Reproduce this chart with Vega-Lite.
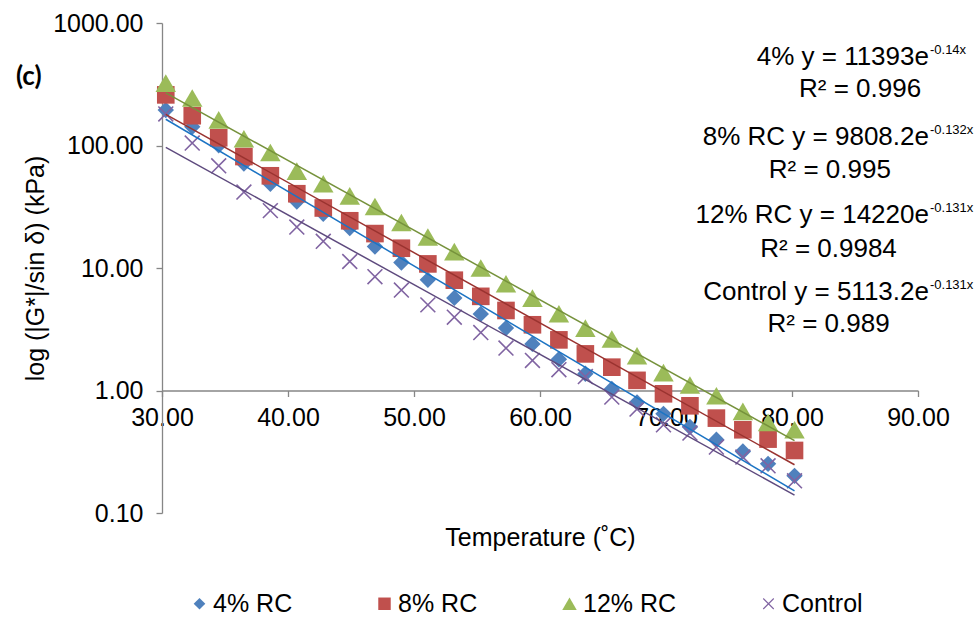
{
  "$schema": "https://vega.github.io/schema/vega-lite/v6.json",
  "width": 756,
  "height": 490,
  "autosize": {"type": "none"},
  "padding": {"left": 162, "top": 23, "right": 57, "bottom": 105},
  "background": "white",
  "title": {
    "text": "(c)",
    "anchor": "start",
    "frame": "group",
    "orient": "top",
    "offset": 0,
    "dx": -146,
    "dy": 100,
    "baseline": "alphabetic",
    "font": "Lato",
    "fontSize": 26,
    "fontWeight": "bold",
    "color": "black"
  },
  "config": {
    "font": "Liberation Sans",
    "view": {"stroke": null},
    "axis": {"grid": false, "labelColor": "black", "titleColor": "black", "titleFontWeight": "normal"},
    "text": {"font": "Liberation Sans", "color": "black"}
  },
  "datasets": {
    "points": [
      {"series": "4% RC", "T": 30.3, "G": 195},
      {"series": "4% RC", "T": 32.4, "G": 142},
      {"series": "4% RC", "T": 34.5, "G": 100.4},
      {"series": "4% RC", "T": 36.5, "G": 71.3},
      {"series": "4% RC", "T": 38.6, "G": 48.7},
      {"series": "4% RC", "T": 40.7, "G": 34.9},
      {"series": "4% RC", "T": 42.8, "G": 27.7},
      {"series": "4% RC", "T": 44.9, "G": 21.2},
      {"series": "4% RC", "T": 46.9, "G": 15.0},
      {"series": "4% RC", "T": 49.0, "G": 11.1},
      {"series": "4% RC", "T": 51.1, "G": 8.0},
      {"series": "4% RC", "T": 53.2, "G": 5.7},
      {"series": "4% RC", "T": 55.3, "G": 4.22},
      {"series": "4% RC", "T": 57.3, "G": 3.23},
      {"series": "4% RC", "T": 59.4, "G": 2.40},
      {"series": "4% RC", "T": 61.5, "G": 1.80},
      {"series": "4% RC", "T": 63.6, "G": 1.37},
      {"series": "4% RC", "T": 65.7, "G": 1.03},
      {"series": "4% RC", "T": 67.7, "G": 0.80},
      {"series": "4% RC", "T": 69.8, "G": 0.645},
      {"series": "4% RC", "T": 71.9, "G": 0.503},
      {"series": "4% RC", "T": 74.0, "G": 0.396},
      {"series": "4% RC", "T": 76.1, "G": 0.318},
      {"series": "4% RC", "T": 78.1, "G": 0.252},
      {"series": "4% RC", "T": 80.2, "G": 0.201},
      {"series": "8% RC", "T": 30.3, "G": 259},
      {"series": "8% RC", "T": 32.4, "G": 175},
      {"series": "8% RC", "T": 34.5, "G": 115.6},
      {"series": "8% RC", "T": 36.5, "G": 81.3},
      {"series": "8% RC", "T": 38.6, "G": 56.6},
      {"series": "8% RC", "T": 40.7, "G": 40.4},
      {"series": "8% RC", "T": 42.8, "G": 30.9},
      {"series": "8% RC", "T": 44.9, "G": 24.3},
      {"series": "8% RC", "T": 46.9, "G": 19.1},
      {"series": "8% RC", "T": 49.0, "G": 14.5},
      {"series": "8% RC", "T": 51.1, "G": 10.8},
      {"series": "8% RC", "T": 53.2, "G": 7.95},
      {"series": "8% RC", "T": 55.3, "G": 5.87},
      {"series": "8% RC", "T": 57.3, "G": 4.50},
      {"series": "8% RC", "T": 59.4, "G": 3.44},
      {"series": "8% RC", "T": 61.5, "G": 2.59},
      {"series": "8% RC", "T": 63.6, "G": 1.99},
      {"series": "8% RC", "T": 65.7, "G": 1.55},
      {"series": "8% RC", "T": 67.7, "G": 1.21},
      {"series": "8% RC", "T": 69.8, "G": 0.94},
      {"series": "8% RC", "T": 71.9, "G": 0.75},
      {"series": "8% RC", "T": 74.0, "G": 0.595},
      {"series": "8% RC", "T": 76.1, "G": 0.478},
      {"series": "8% RC", "T": 78.1, "G": 0.401},
      {"series": "8% RC", "T": 80.2, "G": 0.324},
      {"series": "12% RC", "T": 30.3, "G": 323},
      {"series": "12% RC", "T": 32.4, "G": 244},
      {"series": "12% RC", "T": 34.5, "G": 162},
      {"series": "12% RC", "T": 36.5, "G": 113.5},
      {"series": "12% RC", "T": 38.6, "G": 87.7},
      {"series": "12% RC", "T": 40.7, "G": 61.8},
      {"series": "12% RC", "T": 42.8, "G": 48.7},
      {"series": "12% RC", "T": 44.9, "G": 38.8},
      {"series": "12% RC", "T": 46.9, "G": 31.8},
      {"series": "12% RC", "T": 49.0, "G": 23.5},
      {"series": "12% RC", "T": 51.1, "G": 17.9},
      {"series": "12% RC", "T": 53.2, "G": 13.6},
      {"series": "12% RC", "T": 55.3, "G": 10.0},
      {"series": "12% RC", "T": 57.3, "G": 7.43},
      {"series": "12% RC", "T": 59.4, "G": 5.68},
      {"series": "12% RC", "T": 61.5, "G": 4.23},
      {"series": "12% RC", "T": 63.6, "G": 3.23},
      {"series": "12% RC", "T": 65.7, "G": 2.63},
      {"series": "12% RC", "T": 67.7, "G": 1.92},
      {"series": "12% RC", "T": 69.8, "G": 1.40},
      {"series": "12% RC", "T": 71.9, "G": 1.11},
      {"series": "12% RC", "T": 74.0, "G": 0.906},
      {"series": "12% RC", "T": 76.1, "G": 0.675},
      {"series": "12% RC", "T": 78.1, "G": 0.549},
      {"series": "12% RC", "T": 80.2, "G": 0.478},
      {"series": "Control", "T": 30.3, "G": 181},
      {"series": "Control", "T": 32.4, "G": 104.6},
      {"series": "Control", "T": 34.5, "G": 68.2},
      {"series": "Control", "T": 36.5, "G": 41.7},
      {"series": "Control", "T": 38.6, "G": 29.4},
      {"series": "Control", "T": 40.7, "G": 21.6},
      {"series": "Control", "T": 42.8, "G": 16.5},
      {"series": "Control", "T": 44.9, "G": 11.3},
      {"series": "Control", "T": 46.9, "G": 8.5},
      {"series": "Control", "T": 49.0, "G": 6.6},
      {"series": "Control", "T": 51.1, "G": 5.0},
      {"series": "Control", "T": 53.2, "G": 3.97},
      {"series": "Control", "T": 55.3, "G": 2.97},
      {"series": "Control", "T": 57.3, "G": 2.22},
      {"series": "Control", "T": 59.4, "G": 1.76},
      {"series": "Control", "T": 61.5, "G": 1.48},
      {"series": "Control", "T": 63.6, "G": 1.30},
      {"series": "Control", "T": 65.7, "G": 0.883},
      {"series": "Control", "T": 67.7, "G": 0.705},
      {"series": "Control", "T": 69.8, "G": 0.525},
      {"series": "Control", "T": 71.9, "G": 0.449},
      {"series": "Control", "T": 74.0, "G": 0.345},
      {"series": "Control", "T": 76.1, "G": 0.286},
      {"series": "Control", "T": 78.1, "G": 0.243},
      {"series": "Control", "T": 80.2, "G": 0.183}
    ],
    "fits": [
      {"series": "4% RC", "T": 30.3, "G": 163.8},
      {"series": "4% RC", "T": 80.2, "G": 0.1515},
      {"series": "8% RC", "T": 30.3, "G": 179.7},
      {"series": "8% RC", "T": 80.2, "G": 0.2477},
      {"series": "12% RC", "T": 30.3, "G": 268.6},
      {"series": "12% RC", "T": 80.2, "G": 0.3892},
      {"series": "Control", "T": 30.3, "G": 96.57},
      {"series": "Control", "T": 80.2, "G": 0.1399}
    ],
    "equations": [
      {"T": 90.87, "G": 454, "text": "4% y = 11393e", "sup": "-0.14x"},
      {"T": 90.87, "G": 100.9, "text": "8% RC y = 9808.2e", "sup": "-0.132x"},
      {"T": 90.87, "G": 23.3, "text": "12% RC y = 14220e", "sup": "-0.131x"},
      {"T": 90.87, "G": 5.48, "text": "Control y = 5113.2e", "sup": "-0.131x"}
    ],
    "rsquared": [
      {"T": 85.4, "G": 249, "text": "R² = 0.996"},
      {"T": 83.0, "G": 54.3, "text": "R² = 0.995"},
      {"T": 82.9, "G": 12.3, "text": "R² = 0.9984"},
      {"T": 82.9, "G": 3.0, "text": "R² = 0.989"}
    ]
  },
  "encoding": {
    "x": {
      "field": "T",
      "type": "quantitative",
      "scale": {"domain": [30, 90], "nice": false, "zero": false},
      "axis": {
        "title": "Temperature (˚C)",
        "values": [30, 40, 50, 60, 70, 80, 90],
        "format": ".2f",
        "offset": -122.5,
        "domainColor": "#868686",
        "domainWidth": 1.3,
        "tickColor": "#868686",
        "tickWidth": 1.3,
        "tickSize": 6,
        "labelFontSize": 25,
        "labelPadding": 9,
        "labelFlush": false,
        "labelOverlap": false,
        "titleFontSize": 25,
        "titlePadding": 95
      }
    },
    "y": {
      "field": "G",
      "type": "quantitative",
      "scale": {"type": "log", "domain": [0.1, 1000], "nice": false},
      "axis": {
        "title": "log (|G*|/sin δ) (kPa)",
        "values": [0.1, 1, 10, 100, 1000],
        "format": ".2f",
        "domainColor": "#868686",
        "domainWidth": 1.3,
        "tickColor": "#868686",
        "tickWidth": 1.3,
        "tickSize": 6,
        "labelFontSize": 25,
        "labelPadding": 13,
        "labelFlush": false,
        "labelOverlap": false,
        "titleFontSize": 25,
        "titlePadding": 4
      }
    }
  },
  "layer": [
    {
      "data": {"name": "points"},
      "mark": {"type": "point", "filled": true, "opacity": 1, "strokeWidth": 0, "size": 420},
      "encoding": {
        "color": {
          "field": "series",
          "type": "nominal",
          "scale": {
            "domain": ["4% RC", "8% RC", "12% RC", "Control"],
            "range": ["#4F81BD", "#C0504D", "#9BBB59", "#8064A2"]
          },
          "legend": {
            "title": null,
            "orient": "none",
            "legendX": 25,
            "legendY": 568,
            "direction": "horizontal",
            "labelFontSize": 25,
            "labelColor": "black",
            "labelOffset": 1,
            "symbolSize": 210,
            "symbolStrokeWidth": 0,
            "symbolOpacity": 1,
            "columnPadding": 79
          }
        },
        "shape": {
          "field": "series",
          "type": "nominal",
          "scale": {
            "domain": ["4% RC", "8% RC", "12% RC", "Control"],
            "range": [
              "M0,-0.8L0.8,0L0,0.8L-0.8,0Z",
              "M-0.86,-0.86L0.86,-0.86L0.86,0.86L-0.86,0.86Z",
              "M0,-0.86L1,0.86L-1,0.86Z",
              "M-0.67,-0.78L0.78,0.67L0.67,0.78L-0.78,-0.67ZM0.67,-0.78L0.78,-0.67L-0.67,0.78L-0.78,0.67Z"
            ]
          }
        }
      }
    },
    {
      "data": {"name": "fits"},
      "mark": {"type": "line", "strokeWidth": 1.5},
      "encoding": {
        "stroke": {
          "field": "series",
          "type": "nominal",
          "scale": {
            "domain": ["4% RC", "8% RC", "12% RC", "Control"],
            "range": ["#1C74C4", "#9A3330", "#76923C", "#5E4A7E"]
          },
          "legend": null
        }
      }
    },
    {
      "data": {"name": "equations"},
      "mark": {"type": "text", "align": "right", "baseline": "alphabetic", "fontSize": 26},
      "encoding": {"text": {"field": "text"}}
    },
    {
      "data": {"name": "equations"},
      "mark": {"type": "text", "align": "left", "baseline": "alphabetic", "fontSize": 13, "dx": 1, "dy": -11},
      "encoding": {"text": {"field": "sup"}}
    },
    {
      "data": {"name": "rsquared"},
      "mark": {"type": "text", "align": "center", "baseline": "alphabetic", "fontSize": 26},
      "encoding": {"text": {"field": "text"}}
    }
  ]
}
